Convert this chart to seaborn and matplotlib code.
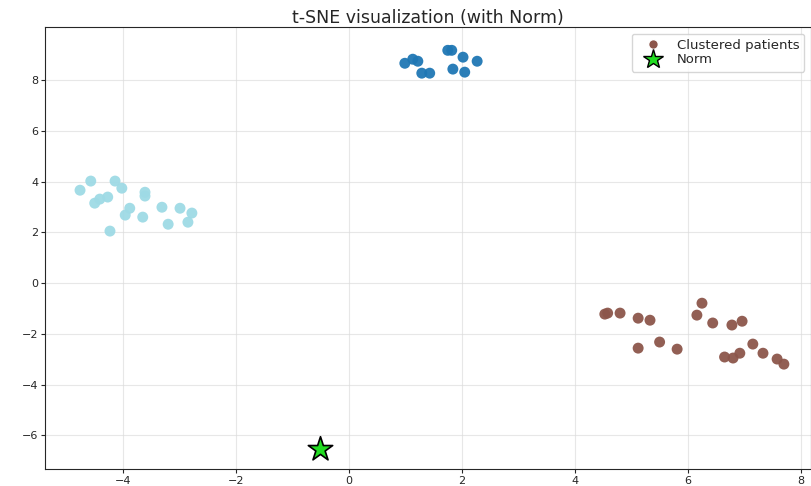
import matplotlib
matplotlib.use('Agg')
import matplotlib.pyplot as plt
import numpy as np
import pandas as pd
import seaborn as sns
from matplotlib.lines import Line2D

# t-SNE coordinates, one list per cluster
c0_x = [0.99, 1.13, 1.22, 1.29, 1.43, 1.75, 1.82, 2.02, 2.27, 1.84, 2.05]
c0_y = [8.66, 8.82, 8.74, 8.27, 8.27, 9.17, 9.17, 8.90, 8.74, 8.43, 8.31]

c1_x = [4.53, 4.58, 4.80, 5.12, 5.33, 5.12, 5.50, 5.81, 6.25, 6.16,
        6.44, 6.78, 6.96, 7.15, 7.33, 6.92, 6.65, 6.80, 7.58, 7.70]
c1_y = [-1.22, -1.18, -1.18, -1.38, -1.46, -2.56, -2.32, -2.60, -0.79, -1.26,
        -1.57, -1.65, -1.50, -2.40, -2.76, -2.76, -2.91, -2.95, -2.99, -3.19]

c2_x = [-4.76, -4.57, -4.14, -4.02, -3.61, -3.61, -4.50, -4.41, -4.27,
        -3.88, -3.96, -3.65, -3.31, -2.99, -2.78, -2.85, -3.20, -4.23]
c2_y = [3.66, 4.02, 4.02, 3.74, 3.58, 3.43, 3.15, 3.31, 3.39,
        2.95, 2.68, 2.60, 2.99, 2.95, 2.76, 2.40, 2.32, 2.05]

norm_x = [-0.51]
norm_y = [-6.54]

cluster_colors = ['#1f77b4', '#8c564b', '#9edae5']

df = pd.DataFrame({
    'x': c0_x + c1_x + c2_x,
    'y': c0_y + c1_y + c2_y,
    'cluster': [0] * len(c0_x) + [1] * len(c1_x) + [2] * len(c2_x),
})

sns.set_style('white')
fig = plt.figure(figsize=(8.11, 4.86), dpi=100)
ax = fig.add_axes([0.0555, 0.035, 0.9445, 0.909])

sns.scatterplot(data=df, x='x', y='y', hue='cluster', palette=cluster_colors,
                s=62, linewidth=0, alpha=0.95, legend=False, ax=ax)
sns.scatterplot(x=norm_x, y=norm_y, marker='*', s=340, color='#22dd22',
                edgecolor='black', linewidth=1.2, legend=False, ax=ax, zorder=5)

ax.set_xlim(-5.38, 8.18)
ax.set_ylim(-7.32, 10.08)
ax.set_xticks([-4, -2, 0, 2, 4, 6, 8])
ax.set_yticks([-6, -4, -2, 0, 2, 4, 6, 8])
ax.tick_params(labelsize=8, length=3, pad=2, left=True, bottom=True)
ax.set_xlabel('')
ax.set_ylabel('')
ax.grid(True, color='#dddddd', linewidth=0.8, alpha=0.7)
ax.set_title('t-SNE visualization (with Norm)', fontsize=12.5, pad=3)

handles = [
    Line2D([0], [0], marker='o', color='w', markerfacecolor='#8c564b',
           markersize=7, label='Clustered patients'),
    Line2D([0], [0], marker='*', color='w', markerfacecolor='#22dd22',
           markeredgecolor='black', markersize=15, label='Norm'),
]
ax.legend(handles=handles, loc='upper right', fontsize=9.5, handletextpad=0.6,
          handlelength=2.4, borderpad=0.4, labelspacing=0.1, frameon=True)

plt.savefig('out.png', dpi=100)
plt.close()
